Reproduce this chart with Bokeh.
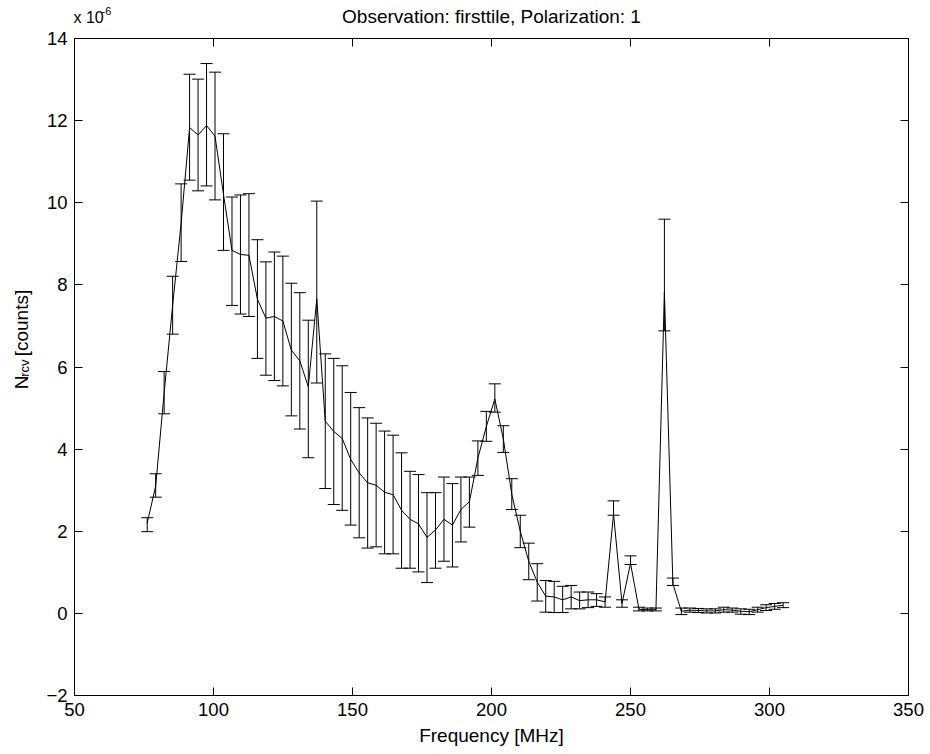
import math
from bokeh.plotting import figure
from bokeh.models import ColumnDataSource, Whisker, TeeHead, LinearAxis, FixedTicker
from bokeh.layouts import column, row
from bokeh.core.properties import value
from bokeh.embed import file_html
from bokeh.resources import INLINE

# Frequencies [MHz]
freq = [76.15, 79.20, 82.25, 85.30, 88.35, 91.40, 94.45, 97.50, 100.55, 103.60,
        106.65, 109.70, 112.75, 115.80, 118.85, 121.90, 124.95, 128.00, 131.05, 134.10,
        137.15, 140.20, 143.25, 146.30, 149.35, 152.40, 155.45, 158.50, 161.55, 164.60,
        167.65, 170.70, 173.75, 176.80, 179.85, 182.90, 185.95, 189.00, 192.05, 195.10,
        198.15, 201.20, 204.25, 207.30, 210.35, 213.40, 216.45, 219.50, 222.55, 225.60,
        228.65, 231.70, 234.75, 237.80, 240.85, 243.90, 246.95, 250.00, 253.05, 256.10,
        259.15, 262.20, 265.25, 268.30, 271.35, 274.40, 277.45, 280.50, 283.55, 286.60,
        289.65, 292.70, 295.75, 298.80, 301.85, 304.90]

# N_rcv values (x 1e-6 counts)
nrcv = [2.2, 3.1, 5.37, 7.5, 9.5, 11.83, 11.65, 11.88, 11.62, 10.2,
        8.84, 8.74, 8.72, 7.65, 7.19, 7.23, 7.12, 6.41, 6.15, 5.52,
        7.66, 4.68, 4.43, 4.26, 3.75, 3.42, 3.18, 3.12, 2.95, 2.89,
        2.51, 2.29, 2.18, 1.85, 2.03, 2.29, 2.15, 2.53, 2.72, 3.78,
        4.55, 5.22, 4.25, 2.9, 2.0, 1.27, 0.76, 0.42, 0.40, 0.33,
        0.40, 0.31, 0.33, 0.33, 0.28, 2.42, 0.24, 1.22, 0.10, 0.09,
        0.09, 7.83, 0.72, 0.05, 0.08, 0.07, 0.06, 0.06, 0.09, 0.08,
        0.05, 0.04, 0.09, 0.14, 0.17, 0.20]

# error bar lower / upper ends (x 1e-6)
err_lo = [1.99, 2.83, 4.86, 6.80, 8.57, 10.55, 10.29, 10.41, 10.07, 8.84,
          7.50, 7.29, 7.23, 6.21, 5.80, 5.67, 5.54, 4.81, 4.49, 3.79,
          5.61, 3.04, 2.65, 2.51, 2.15, 1.84, 1.59, 1.62, 1.45, 1.45,
          1.10, 1.10, 1.01, 0.75, 1.10, 1.27, 1.13, 1.74, 2.10, 3.36,
          4.19, 4.90, 3.92, 2.53, 1.60, 0.82, 0.30, 0.03, 0.02, 0.02,
          0.11, 0.11, 0.14, 0.17, 0.15, 2.39, 0.15, 1.19, 0.06, 0.06,
          0.06, 6.88, 0.68, -0.03, 0.03, 0.02, 0.01, 0.01, 0.03, 0.03,
          -0.02, -0.03, 0.03, 0.07, 0.10, 0.14]
err_hi = [2.33, 3.40, 5.89, 8.21, 10.46, 13.13, 13.01, 13.39, 13.18, 11.68,
          10.14, 10.19, 10.22, 9.10, 8.56, 8.80, 8.70, 8.04, 7.81, 7.14,
          10.04, 6.32, 6.21, 6.03, 5.38, 5.01, 4.76, 4.63, 4.44, 4.34,
          3.91, 3.46, 3.38, 2.94, 2.94, 3.32, 3.16, 3.32, 3.32, 4.20,
          4.92, 5.59, 4.57, 3.28, 2.39, 1.71, 1.21, 0.80, 0.78, 0.66,
          0.68, 0.52, 0.52, 0.48, 0.40, 2.74, 0.33, 1.40, 0.15, 0.13,
          0.13, 9.60, 0.86, 0.13, 0.13, 0.12, 0.11, 0.11, 0.15, 0.13,
          0.11, 0.10, 0.15, 0.21, 0.24, 0.26]

x_ticks = [50, 100, 150, 200, 250, 300, 350]
y_ticks = [-2, 0, 2, 4, 6, 8, 10, 12, 14]

TITLE = "Observation: firsttile, Polarization: 1"
XLABEL = "Frequency [MHz]"

FONT = "Liberation Sans"
TICK_FS = "18.5px"
LAB_FS = "19px"

W, H = 930, 754
TOP_H = 27          # strip above the main figure
FRAME_TOP = 38      # page y of the plot frame's top edge
LEFT_W = 40


def blank_fig(w, h):
    f = figure(width=w, height=h, x_range=(0, w), y_range=(0, h), title=None,
               output_backend="svg", toolbar_location=None,
               x_axis_location=None, y_axis_location=None,
               min_border=0, min_border_left=0, min_border_right=0,
               min_border_top=0, min_border_bottom=0)
    f.grid.visible = False
    f.outline_line_color = None
    f.background_fill_color = "white"
    f.border_fill_color = "white"
    return f


# ---------- top strip: title and exponent ----------
top = blank_fig(W, TOP_H)
top.text(x=[491], y=[TOP_H - 16.3], text=[TITLE], text_font=value(FONT),
         text_font_size=value(LAB_FS), text_color="black",
         text_align="center", text_baseline="alphabetic")
top.text(x=[73], y=[TOP_H - 17.2], text=["x 10"], text_font=value(FONT),
         text_font_size=value("16px"), text_color="black",
         text_align="left", text_baseline="alphabetic")
top.text(x=[101], y=[TOP_H - 10.6], text=["-6"], text_font=value(FONT),
         text_font_size=value("11px"), text_color="black",
         text_align="left", text_baseline="alphabetic")

# ---------- left strip: rotated y label N_rcv [counts] ----------
MAIN_H = H - TOP_H
left = blank_fig(LEFT_W, MAIN_H)
ang = math.pi / 2
py0 = 415  # page y where the label starts (bottom end)


def ly(py):
    return H - py


BX = 21
left.text(x=[BX], y=[ly(py0)], text=["N"], angle=ang, text_font=value(FONT),
          text_font_size=value(LAB_FS), text_color="black",
          text_align="left", text_baseline="alphabetic")
left.text(x=[BX + 3], y=[ly(py0 - 13.7)], text=["rcv"], angle=ang, text_font=value(FONT),
          text_font_size=value("13px"), text_color="black",
          text_align="left", text_baseline="alphabetic")
left.text(x=[BX], y=[ly(py0 - 13.7 - 17.3 - 5.3)], text=["[counts]"], angle=ang, text_font=value(FONT),
          text_font_size=value(LAB_FS), text_color="black",
          text_align="left", text_baseline="alphabetic")

# ---------- main plot ----------
src = ColumnDataSource(dict(f=freq, y=nrcv, lo=err_lo, hi=err_hi))

p = figure(width=W - LEFT_W, height=MAIN_H, x_range=(50, 350), y_range=(-2, 14),
           title=None, output_backend="svg", toolbar_location=None,
           min_border_left=74 - LEFT_W, min_border_right=22,
           min_border_top=FRAME_TOP - TOP_H, min_border_bottom=59)
p.grid.visible = False
p.outline_line_color = "black"
p.outline_line_width = 1
p.background_fill_color = "white"
p.border_fill_color = "white"


def style_axis(ax, labels=True):
    ax.axis_line_color = "black"
    ax.major_tick_line_color = "black"
    ax.major_tick_in = 8
    ax.major_tick_out = 0
    ax.minor_tick_line_color = None
    ax.major_label_text_font = FONT
    ax.major_label_text_color = "black"
    if labels:
        ax.major_label_text_font_size = TICK_FS
        ax.major_label_standoff = 7
    else:
        ax.major_label_text_font_size = "0px"
        ax.major_label_text_alpha = 0
        ax.major_label_standoff = 0


style_axis(p.xaxis[0])
style_axis(p.yaxis[0])
p.xaxis[0].ticker = FixedTicker(ticks=x_ticks)
p.yaxis[0].ticker = FixedTicker(ticks=y_ticks)
p.xaxis[0].axis_label = XLABEL
p.xaxis[0].axis_label_text_font = FONT
p.xaxis[0].axis_label_text_font_size = LAB_FS
p.xaxis[0].axis_label_text_font_style = "normal"
p.xaxis[0].axis_label_text_color = "black"
p.xaxis[0].axis_label_standoff = 6

top_ax = LinearAxis(ticker=FixedTicker(ticks=x_ticks))
style_axis(top_ax, labels=False)
p.add_layout(top_ax, "above")
right_ax = LinearAxis(ticker=FixedTicker(ticks=y_ticks))
style_axis(right_ax, labels=False)
p.add_layout(right_ax, "right")

wh = Whisker(base="f", lower="lo", upper="hi", source=src, dimension="height",
             line_color="black", line_width=1,
             upper_head=TeeHead(size=12, line_color="black", line_width=1),
             lower_head=TeeHead(size=12, line_color="black", line_width=1))
p.add_layout(wh)

p.line("f", "y", source=src, line_color="black", line_width=1)

layout = column(top, row(left, p, spacing=0), spacing=0)

open("out.html", "w").write(file_html(layout, INLINE))
